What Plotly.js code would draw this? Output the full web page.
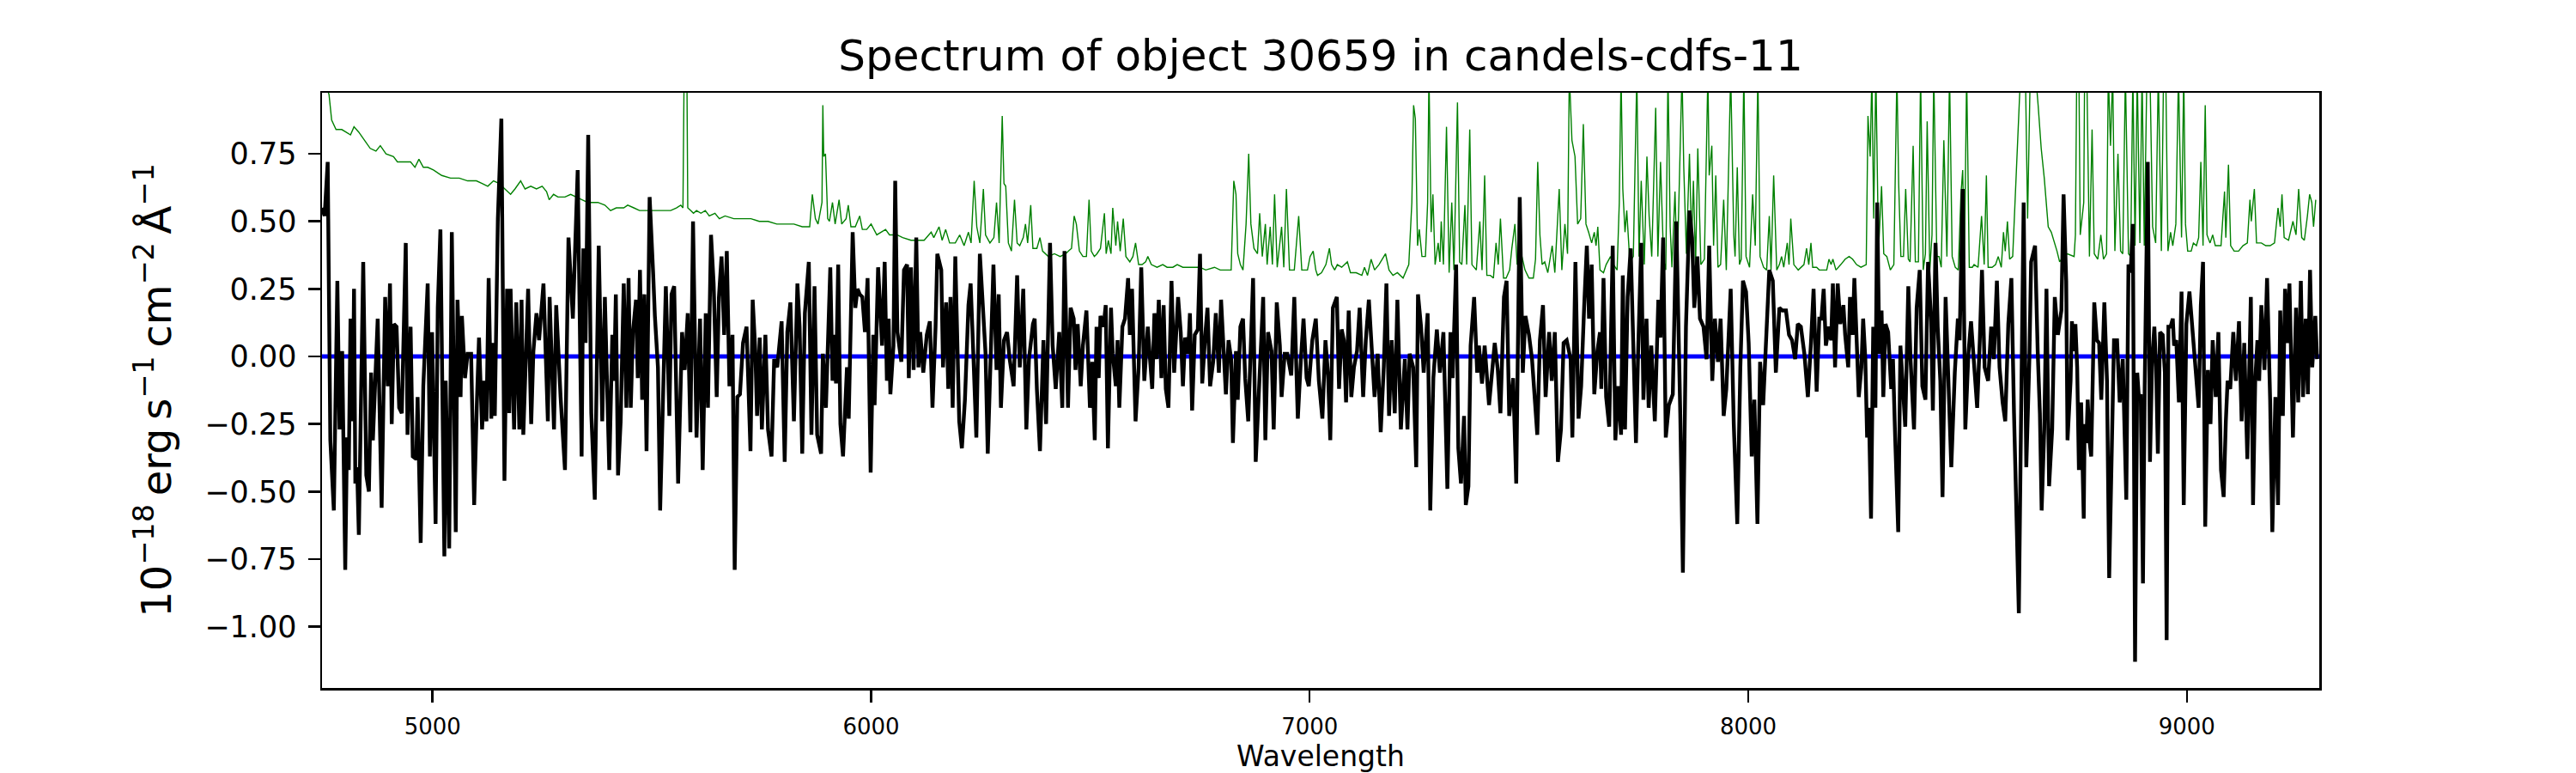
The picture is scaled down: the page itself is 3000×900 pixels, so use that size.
<!DOCTYPE html>
<html>
<head>
<meta charset="utf-8">
<script src="https://cdn.plot.ly/plotly-3.0.1.min.js"></script>
<style>html,body{margin:0;padding:0;background:#fff;}</style>
</head>
<body>
<div id="chart" style="width:3000px;height:900px;"></div>
<script>
// Observed spectrum (black): wavelength [Angstrom] and flux [1e-18 erg/s/cm2/A]
const wave = [
4748,4754,4761,4767,4775,4783,4788,4794,4801,4805,4809,4813,4818,4821,4824,4828,4832,4842,4849,4855,4860,4864,4875,4878,4884,4892,4898,4903,4907,4912,4918,4924,4930,4939,4943,4950,4955,4963,4966,4973,4979,4989,4994,4999,5007,5012,5018,5027,5030,5038,5044,5053,5057,5064,5067,5074,5080,5088,5095,5101,5106,5113,5118,5123,5128,5134,5138,5142,5149,5157,5164,5170,5175,5178,5186,5191,5198,5203,5207,5218,5225,5230,5237,5243,5253,5263,5267,5277,5282,5292,5302,5310,
5320,5331,5340,5344,5349,5355,5362,5370,5379,5387,5393,5403,5410,5414,5418,5423,5429,5436,5442,5447,5452,5457,5464,5468,5473,5478,5483,5488,5495,5503,5507,5514,5519,5525,5532,5540,5545,5551,5560,5569,5575,5582,5588,5594,5602,5610,5616,5623,5628,5635,5641,5648,5653,5659,5665,5671,5677,5684,5689,5695,5701,5708,5716,5725,5730,5736,5740,5746,5751,5759,5765,5773,5779,5786,5796,5803,5809,5816,5824,5832,5837,5843,5849,5858,5864,5871,5877,5886,
5890,5897,5907,5912,5917,5920,5925,5930,5936,5945,5949,5958,5964,5969,5974,5980,5986,5992,5999,6005,6008,6016,6025,6031,6036,6040,6044,6051,6055,6060,6069,6075,6082,6086,6091,6097,6103,6108,6112,6119,6127,6134,6140,6147,6151,6160,6164,6171,6176,6181,6186,6192,6201,6207,6214,6222,6227,6234,6240,6248,6256,6261,6266,6273,6279,6286,6291,6296,6303,6310,6316,6325,6333,6339,6347,6354,6360,6369,6373,6378,6385,6393,6399,6408,6414,6421,6429,6436,6441,6449,6455,
6462,6466,6471,6478,6483,6491,6499,6504,6510,6514,6519,6523,6530,6535,6540,6547,6551,6558,6562,6566,6573,6579,6586,6590,6595,6603,6610,6616,6623,6631,6636,6641,6646,6651,6656,6662,6667,6672,6678,6685,6691,6700,6706,6711,6716,6723,6727,6732,6738,6745,6750,6755,6762,6767,6773,6780,6786,6793,6798,6802,6809,6815,6821,6825,6832,6836,6842,6848,6853,6860,6871,6877,6886,6894,6899,6905,6913,6918,6925,6932,6936,6943,6949,6958,6965,6973,6980,6986,6993,6998,7006,7014,7021,
7029,7036,7042,7047,7053,7062,7067,7073,7078,7083,7089,7095,7101,7108,7114,7122,7128,7135,7142,7148,7155,7162,7169,7175,7181,7187,7194,7200,7208,7217,7223,7228,7236,7243,7247,7254,7260,7269,7275,7282,7290,7297,7305,7314,7321,7326,7334,7339,7345,7352,7356,7362,7367,7375,7382,7386,7393,7399,7409,7417,7422,7429,7435,7443,7449,7455,7464,7471,7479,7486,7492,7500,7507,7519,7525,7532,7538,7546,7552,7559,7566,7573,7579,7586,7595,
7599,7606,7613,7619,7626,7632,7637,7643,7649,7656,7662,7665,7670,7676,7683,7691,7697,7704,7710,7714,7719,7725,7732,7736,7744,7749,7756,7761,7768,7773,7779,7787,7795,7800,7806,7812,7819,7828,7836,7845,7851,7858,7866,7872,7877,7884,7890,7898,7905,7911,7918,7924,7931,7937,7944,7950,7960,7967,7975,7982,7988,7995,8001,8008,8014,8021,8027,8034,8040,8048,8056,8063,8071,8078,8086,8093,8100,8107,8113,8120,8128,8136,8143,8149,8156,8162,
8167,8172,8177,8184,8189,8193,8198,8204,8210,8217,8221,8228,8232,8238,8242,8247,8252,8258,8262,8267,8271,8275,8280,8285,8290,8294,8299,8304,8308,8313,8319,8326,8330,8335,8342,8347,8352,8358,8365,8370,8378,8384,8391,8397,8404,8410,8417,8421,8427,8432,8438,8443,8450,8456,8463,8471,8478,8482,8489,8495,8502,8508,8515,8522,8528,8533,8539,8547,8554,8560,8567,8573,8580,8586,8593,8600,8606,8617,8621,8628,8634,8641,8645,8654,8660,8665,8669,8675,8680,8686,8693,8699,8706,8714,8719,8725,8728,
8735,8738,8743,8746,8750,8754,8759,8765,8767,8771,8774,8778,8782,8789,8795,8800,8805,8812,8818,8823,8830,8834,8841,8847,8854,8857,8862,8867,8872,8877,8882,8887,8891,8895,8900,8904,8911,8916,8921,8926,8930,8934,8939,8945,8950,8954,8958,8963,8968,8971,8976,8982,8988,8993,8999,9006,9012,9019,9027,9032,9037,9042,9048,9054,9059,9066,9072,9078,9084,9089,9093,9099,9106,9112,9119,9125,9131,9138,9146,9151,9156,9161,9165,9170,9177,9183,9190,9195,9202,9208,9213,9219,9224,9229,9234,9242,9249,9254,9260,9265,9271,9276,9281,9286,9293,9297
];
const flux = [
0.55,0.52,0.72,-0.31,-0.57,0.28,-0.27,0.02,-0.79,-0.30,-0.42,0.14,-0.24,0.25,-0.47,-0.41,-0.66,0.35,-0.44,-0.50,-0.06,-0.31,0.14,-0.15,-0.56,0.22,-0.11,0.27,-0.25,0.12,0.11,-0.19,-0.21,0.42,-0.29,0.11,-0.37,-0.38,-0.15,-0.69,-0.11,0.27,-0.37,0.09,-0.62,0.18,0.47,-0.74,-0.09,-0.71,0.46,-0.65,0.21,-0.15,0.15,-0.08,0.01,0.01,-0.55,-0.18,0.07,-0.27,-0.09,-0.24,0.29,-0.23,0.05,-0.22,0.51,0.88,-0.46,0.25,-0.21,0.25,-0.27,0.20,-0.27,0.21,-0.29,0.25,-0.25,0.02,0.16,0.06,0.27,-0.24,0.22,-0.27,0.19,-0.15,-0.42,0.44,
0.14,0.69,-0.37,0.40,0.05,0.82,-0.21,-0.53,0.41,-0.24,0.22,-0.42,0.08,-0.09,0.23,-0.44,-0.24,0.27,-0.19,0.29,-0.19,0.09,0.21,-0.08,0.32,-0.16,0.23,-0.35,0.59,0.31,0.15,-0.04,-0.57,-0.19,0.26,-0.22,0.23,0.26,-0.47,0.09,-0.05,0.16,-0.28,0.50,-0.30,0.14,-0.42,0.16,-0.19,0.45,0.27,-0.15,0.22,0.37,0.08,0.39,-0.11,0.08,-0.79,-0.15,-0.14,0.05,0.11,-0.35,0.21,0.02,-0.22,0.07,-0.27,0.08,-0.27,-0.37,-0.01,-0.04,0.13,-0.39,0.09,0.20,-0.24,0.27,0.11,-0.36,0.16,0.35,-0.29,0.26,-0.29,-0.36,
0.01,-0.19,0.33,-0.09,0.08,-0.10,0.34,-0.25,-0.37,-0.04,-0.23,0.46,0.18,0.25,0.23,0.22,0.09,0.29,-0.43,0.08,-0.18,0.33,0.04,0.35,-0.09,0.14,-0.14,0.04,0.65,0.09,-0.02,0.32,0.34,-0.08,0.33,-0.05,0.44,-0.04,0.09,-0.06,0.08,0.13,-0.19,0.11,0.38,0.32,-0.04,0.20,-0.12,0.22,-0.19,0.37,-0.24,-0.34,-0.16,0.19,0.27,-0.03,-0.30,0.38,0.11,0.01,-0.36,0.08,0.34,-0.05,0.23,-0.19,0.06,0.09,-0.01,-0.11,0.30,-0.04,0.25,-0.27,-0.01,0.12,0.14,-0.12,-0.35,0.06,-0.25,0.42,0.04,-0.12,0.09,-0.19,0.39,-0.19,0.18,
0.14,-0.05,0.12,-0.11,0.04,0.17,-0.19,-0.02,-0.31,0.11,-0.08,0.15,0.11,0.19,-0.34,0.18,0.01,-0.11,0.06,-0.19,0.11,0.14,0.29,0.08,0.25,-0.24,-0.04,0.33,-0.09,0.11,-0.01,-0.12,0.16,-0.01,0.21,-0.08,0.19,-0.12,-0.19,0.28,-0.06,0.22,0.09,-0.11,0.07,0.01,0.16,-0.20,0.08,0.10,0.38,-0.10,0.08,0.18,-0.11,-0.02,0.16,-0.06,0.21,0.08,-0.14,0.06,-0.01,-0.32,0.02,-0.16,0.11,0.14,-0.08,-0.24,0.29,-0.39,-0.06,0.22,-0.31,0.09,0.02,-0.27,0.20,0.04,-0.15,0.01,0.01,-0.07,0.22,-0.23,-0.01,0.14,-0.08,-0.11,0.06,0.14,-0.09,
-0.23,0.06,-0.07,-0.31,0.18,0.22,-0.12,0.10,0.06,-0.17,0.17,-0.15,-0.04,0.02,0.18,-0.15,0.06,0.21,-0.02,-0.15,0.01,-0.28,-0.04,0.27,-0.22,0.06,-0.21,0.21,-0.27,-0.01,-0.27,0.01,-0.04,-0.41,0.23,0.11,-0.06,0.16,-0.57,-0.08,0.10,-0.06,0.09,-0.49,0.09,-0.08,0.34,-0.34,-0.47,-0.22,-0.55,-0.48,0.04,0.22,-0.06,0.04,-0.10,0.04,-0.18,-0.04,0.05,-0.05,-0.21,0.22,0.28,-0.22,-0.08,-0.47,0.59,-0.06,0.15,0.08,-0.01,-0.29,0.06,0.19,-0.15,0.09,-0.09,0.09,-0.39,-0.27,0.05,0.06,-0.01,
-0.30,0.35,-0.23,-0.11,0.19,0.41,0.14,0.34,-0.14,0.02,0.09,-0.12,0.29,-0.15,-0.26,0.41,-0.31,-0.11,-0.29,0.30,-0.27,0.22,0.40,0.12,-0.32,0.02,0.42,-0.16,0.14,-0.19,0.04,-0.24,0.21,0.07,0.44,-0.30,-0.18,-0.14,0.50,-0.21,-0.80,0.11,0.54,0.44,0.18,0.37,0.14,0.11,-0.01,0.41,-0.09,0.14,-0.02,0.14,-0.22,-0.12,0.25,-0.25,-0.62,-0.04,0.28,0.24,0.05,-0.37,-0.16,-0.62,-0.02,-0.18,0.01,0.32,0.28,-0.06,0.18,0.17,0.17,0.08,0.06,-0.01,0.12,0.11,0.01,-0.15,0.05,0.25,-0.13,0.14,
0.14,0.25,0.04,0.11,0.06,0.27,-0.04,0.27,0.12,0.19,0.08,-0.04,0.22,0.08,0.29,0.08,-0.15,-0.04,0.14,-0.01,-0.30,-0.19,-0.60,0.11,-0.19,0.57,0.01,0.17,-0.15,0.12,0.09,-0.12,-0.01,-0.30,-0.65,0.04,-0.09,-0.26,0.26,-0.01,-0.27,0.18,0.32,-0.11,-0.16,0.35,0.13,-0.20,0.42,0.11,-0.09,-0.52,0.22,-0.04,-0.41,-0.06,0.14,0.06,0.62,-0.27,0.01,0.13,-0.01,-0.19,0.06,0.32,-0.04,-0.09,0.11,-0.01,0.28,-0.04,-0.17,-0.24,0.12,0.29,-0.21,-0.95,-0.38,0.57,-0.41,-0.01,0.35,0.41,0.02,-0.21,-0.57,-0.27,0.25,-0.48,-0.27,0.22,0.08,0.17,0.60,0.28,-0.31,
-0.09,0.13,0.02,0.12,-0.04,-0.42,-0.17,-0.60,-0.25,-0.32,-0.16,-0.31,-0.37,0.20,0.06,0.05,-0.16,0.20,-0.09,-0.82,-0.31,0.06,0.06,-0.17,-0.01,-0.27,-0.53,0.34,0.31,0.49,-1.13,-0.06,-0.16,-0.14,-0.84,-0.11,0.72,-0.39,-0.01,0.11,-0.04,-0.36,0.09,0.08,-0.06,-1.05,0.11,0.11,0.14,0.04,0.06,-0.17,0.24,-0.55,0.12,0.24,0.11,-0.04,-0.19,0.19,0.35,-0.63,-0.05,-0.25,0.06,-0.15,0.09,-0.42,-0.52,-0.24,-0.09,-0.12,0.09,-0.09,0.13,-0.24,0.05,-0.38,0.22,-0.55,-0.09,0.06,-0.09,0.19,-0.05,0.29,-0.16,-0.65,-0.15,-0.55,0.17,-0.22,0.25,0.05,0.27,-0.30,0.18,-0.17,0.28,-0.15,0.14,-0.14,0.32,-0.04,0.15,-0.01
];

// Model continuum (blue), flat at zero over the range
const modelWave = [4748, 9302];
const modelFlux = [0, 0];

// Noise / sky spectrum (green). Values above the axis top are sky-line peaks.
const errWave = [
4748,4757,4764,4770,4780,4793,4803,4813,4821,4832,4845,4858,4871,4881,4894,4911,4920,4937,4950,4960,4969,4979,4989,5002,5021,5041,5061,5080,5100,5113,5126,5139,5152,5165,5178,5188,5201,5211,5224,5237,5250,5260,5266,5276,5286,5302,
5315,5341,5354,5377,5393,5406,5419,5436,5445,5459,5472,5491,5504,5517,5530,5543,5556,5566,5571,5575,5579,5582,5589,5595,5602,5612,5622,5631,5644,5654,5667,5687,5706,5726,5745,5765,5785,5804,5824,5843,5860,5866,5873,5879,5888,5890,
5892,5896,5901,5905,5912,5918,5927,5933,5943,5948,5954,5964,5974,5980,5990,6000,6013,6033,6042,6059,6072,6091,6104,6121,6137,6143,6155,6162,6170,6179,6192,6202,6212,6222,6228,6235,6241,6248,6256,6261,6271,6280,6286,6292,6299,6303,6307,6313,6320,6327,6333,6339,6347,6352,6357,6364,6369,6378,6385,6391,6404,6418,6431,6444,
6450,6457,6463,6468,6475,6483,6491,6497,6502,6509,6515,6523,6532,6536,6541,6547,6551,6558,6562,6568,6575,6581,6590,6597,6603,6610,6618,6626,6631,6639,6652,6665,6675,6688,6698,6711,6724,6737,6750,6763,6783,6796,6809,6821,6827,6832,6836,6842,6848,6855,6861,6866,6873,6881,6886,6892,6899,6903,6910,6915,6920,6926,6936,6941,6947,6954,6965,6969,6975,6982,6995,7001,7008,7014,
7018,7027,7037,7045,7050,7057,7063,7073,7080,7086,7093,7106,7119,7125,7132,7140,7148,7158,7173,7181,7190,7200,7213,7220,7226,7233,7237,7241,7246,7250,7256,7264,7269,7272,7277,7281,7286,7293,7297,7300,7305,7312,7318,7324,7329,7337,7342,7347,7354,7358,7365,7370,7380,7388,7393,7399,7404,7412,7419,7425,7430,7435,7442,7448,7456,7461,7468,7473,7484,7491,7500,7510,7515,7520,7525,7530,7536,7543,7553,7559,7569,7575,7582,7588,
7592,7598,7605,7611,7618,7624,7630,7636,7643,7649,7653,7657,7662,7670,7676,7686,7693,7701,7706,7710,7714,7719,7723,7730,7738,7746,7751,7756,7763,7769,7774,7780,7789,7794,7800,7807,7812,7817,7822,7826,7833,7838,7843,7849,7853,7859,7866,7871,7875,7880,7885,7892,7900,7908,7911,7917,7921,7926,7931,7937,7944,7950,7960,7967,7970,7975,7980,7984,7990,7995,8003,8010,8016,8022,8027,8035,8042,8048,8052,8058,8065,8071,8076,8081,8089,8093,8097,8104,8114,8127,8133,8138,8143,8147,8156,8162,
8166,8179,8184,8189,8193,8200,8211,8221,8230,8238,8247,8257,8269,8273,8278,8282,8286,8291,8297,8304,8309,8316,8324,8332,8339,8343,8348,8354,8359,8365,8369,8376,8381,8388,8393,8399,8404,8408,8414,8419,8423,8430,8435,8440,8446,8453,8459,8465,8472,8479,8485,8489,8493,8498,8504,8511,8515,8524,8532,8538,8543,8547,8556,8564,8570,8577,8582,8586,8591,8596,8603,8609,8616,8621,8626,8632,8637,8643,8648,8655,8661,8668,8675,8680,8684,8691,8697,8704,8710,8719,
8728,8743,8746,8749,8754,8757,8765,8767,8772,8778,8784,8789,8797,8804,8810,8817,8821,8826,8831,8836,8843,8849,8854,8860,8867,8872,8877,8882,8887,8893,8898,8903,8909,8916,8922,8929,8935,8942,8947,8952,8957,8963,8968,8975,8981,8988,8993,8997,9002,9010,9015,9022,9027,9032,9037,9042,9046,9053,9059,9065,9072,9078,9086,9089,9095,9100,9108,9118,9128,9138,9144,9147,9154,9159,9170,9180,9190,9200,9208,9213,9217,9222,9232,9242,9249,9255,9262,9268,9275,9280,9285,9289,9294
];
const errFlux = [
1.10,1.00,0.97,0.875,0.84,0.84,0.83,0.82,0.85,0.83,0.80,0.77,0.76,0.78,0.75,0.74,0.72,0.72,0.72,0.70,0.73,0.70,0.70,0.69,0.67,0.66,0.66,0.65,0.65,0.64,0.63,0.65,0.64,0.62,0.60,0.62,0.65,0.62,0.63,0.62,0.63,0.61,0.58,0.60,0.59,0.59,
0.60,0.58,0.57,0.57,0.56,0.54,0.55,0.55,0.56,0.55,0.54,0.54,0.54,0.54,0.54,0.54,0.55,0.56,0.55,1.30,1.30,0.55,0.54,0.53,0.54,0.53,0.54,0.52,0.53,0.51,0.52,0.51,0.51,0.51,0.50,0.50,0.49,0.49,0.49,0.48,0.48,0.60,0.51,0.49,0.57,0.93,
0.74,0.75,0.51,0.50,0.57,0.49,0.58,0.49,0.51,0.56,0.48,0.48,0.52,0.47,0.47,0.49,0.45,0.47,0.45,0.45,0.44,0.43,0.43,0.43,0.46,0.44,0.48,0.43,0.47,0.42,0.42,0.45,0.41,0.46,0.42,0.65,0.48,0.42,0.62,0.45,0.42,0.44,0.57,0.42,0.89,0.64,0.63,0.42,0.39,0.58,0.42,0.41,0.44,0.49,0.42,0.56,0.40,0.40,0.44,0.39,0.37,0.38,0.37,0.38,
0.39,0.40,0.52,0.49,0.39,0.37,0.37,0.58,0.39,0.37,0.38,0.40,0.53,0.38,0.43,0.38,0.55,0.41,0.50,0.39,0.51,0.37,0.35,0.37,0.42,0.34,0.34,0.35,0.37,0.34,0.33,0.34,0.33,0.33,0.34,0.33,0.33,0.33,0.33,0.32,0.33,0.32,0.32,0.32,0.65,0.60,0.38,0.34,0.32,0.49,0.75,0.49,0.40,0.38,0.53,0.37,0.49,0.34,0.48,0.34,0.60,0.33,0.48,0.33,0.62,0.32,0.32,0.40,0.52,0.32,0.32,0.37,0.39,0.32,
0.30,0.31,0.34,0.40,0.34,0.32,0.34,0.33,0.34,0.35,0.31,0.31,0.30,0.33,0.30,0.36,0.32,0.34,0.38,0.32,0.30,0.31,0.29,0.32,0.34,0.57,0.93,0.88,0.41,0.47,0.37,0.37,0.57,1.05,0.46,0.60,0.34,0.42,0.35,0.50,0.34,0.85,0.31,0.57,0.32,0.94,0.35,0.34,0.56,0.34,0.84,0.34,0.32,0.50,0.32,0.67,0.30,0.30,0.29,0.42,0.34,0.51,0.29,0.29,0.32,0.40,0.49,0.34,0.37,0.32,0.29,0.29,0.36,0.72,0.45,0.34,0.35,0.31,0.41,0.31,0.62,0.32,0.49,0.38,
1.05,0.80,0.74,0.49,0.51,0.86,0.49,0.46,0.42,0.46,0.41,0.48,0.32,0.31,0.34,0.37,0.34,0.32,0.57,1.05,0.62,0.46,0.54,0.35,0.37,1.05,0.37,0.65,0.34,0.74,0.52,0.37,0.92,0.37,0.72,0.36,0.32,1.05,0.48,0.33,0.61,0.32,0.67,1.05,0.70,0.38,0.75,0.42,0.65,0.34,0.77,0.34,0.36,1.05,0.67,0.78,0.41,0.67,0.33,0.34,0.58,0.32,1.05,0.45,0.37,0.70,0.34,0.36,1.05,0.37,0.33,0.60,0.41,1.05,0.37,0.33,0.32,0.52,0.32,0.67,0.32,0.34,0.37,0.33,0.42,0.34,0.51,0.34,0.32,0.34,0.40,0.34,0.42,0.33,0.33,0.32,
0.32,0.32,0.36,0.34,0.36,0.32,0.34,0.36,0.37,0.36,0.34,0.33,0.34,0.89,0.74,1.05,0.51,1.05,0.39,0.63,0.38,0.37,0.32,0.34,1.05,0.64,0.37,0.37,0.62,0.36,0.35,0.78,0.35,0.35,1.05,0.32,0.38,0.87,0.32,0.45,1.05,0.37,0.37,0.33,0.80,0.37,1.05,0.37,0.33,0.32,0.60,0.69,0.36,1.05,0.33,0.33,0.34,0.33,0.52,0.34,0.67,0.33,0.33,0.34,0.37,0.33,0.46,0.39,0.50,0.36,0.37,0.61,0.88,1.05,1.05,1.05,0.51,1.05,1.05,1.05,0.93,0.77,0.66,0.55,0.48,0.46,0.43,0.39,0.35,0.37,
0.38,0.37,0.45,1.05,1.05,0.45,0.57,1.05,1.05,0.37,0.84,0.38,0.36,0.45,0.36,0.38,1.05,0.78,1.05,0.39,0.75,0.39,0.38,1.05,0.38,0.37,1.05,0.41,1.05,0.42,1.05,0.41,1.05,1.05,0.48,0.42,1.05,0.39,1.05,1.05,0.39,0.46,0.41,0.49,1.05,0.44,1.05,0.49,0.39,0.39,0.42,0.41,0.44,0.72,0.41,0.93,0.45,0.42,0.45,0.41,0.41,0.41,0.61,0.44,0.71,0.41,0.39,0.39,0.41,0.42,0.58,0.50,0.62,0.42,0.42,0.41,0.41,0.42,0.55,0.48,0.60,0.44,0.43,0.50,0.45,0.62,0.44,0.43,0.52,0.60,0.57,0.48,0.58
];

// Axis ticks
const xTickVals = [5000, 6000, 7000, 8000, 9000];
const xTickText = ['5000', '6000', '7000', '8000', '9000'];
const yTickVals = [-1.00, -0.75, -0.50, -0.25, 0.00, 0.25, 0.50, 0.75];
const yTickText = ['\u22121.00', '\u22120.75', '\u22120.50', '\u22120.25', '0.00', '0.25', '0.50', '0.75'];

const FONT = 'DejaVu Sans, Verdana, sans-serif';

const traces = [
  {x: errWave, y: errFlux, type: 'scatter', mode: 'lines',
   line: {color: '#008000', width: 1.4}, hoverinfo: 'skip'},
  {x: modelWave, y: modelFlux, type: 'scatter', mode: 'lines',
   line: {color: '#0000ff', width: 5}, hoverinfo: 'skip'},
  {x: wave, y: flux, type: 'scatter', mode: 'lines',
   line: {color: '#000000', width: 4.4}, hoverinfo: 'skip'}
];

const axisCommon = {
  showline: true, linecolor: '#000', linewidth: 2.5, mirror: true,
  ticks: 'outside', ticklen: 14, tickwidth: 2.5, tickcolor: '#000',
  showgrid: false, zeroline: false
};

const layout = {
  width: 3000, height: 900,
  margin: {l: 375, r: 299, t: 108, b: 99, pad: 0},
  paper_bgcolor: '#fff', plot_bgcolor: '#fff',
  showlegend: false,
  font: {family: FONT, color: '#000'},
  title: {
    text: 'Spectrum of object 30659 in candels-cdfs-11',
    font: {family: FONT, size: 50, color: '#000'},
    xref: 'paper', x: 0.5, xanchor: 'center',
    yref: 'container', y: 0.928, yanchor: 'middle'
  },
  xaxis: Object.assign({}, axisCommon, {
    range: [4748, 9302],
    tickmode: 'array', tickvals: xTickVals, ticktext: xTickText,
    tickfont: {family: FONT, size: 26, color: '#000'},
    ticklabelstandoff: 6,
    title: {text: 'Wavelength', font: {family: FONT, size: 33, color: '#000'}, standoff: 4}
  }),
  yaxis: Object.assign({}, axisCommon, {
    range: [-1.227, 0.976],
    tickmode: 'array', tickvals: yTickVals, ticktext: yTickText,
    tickfont: {family: FONT, size: 35, color: '#000'},
    ticklabelstandoff: 6,
    title: {text: '10<sup>\u221218</sup>\u2009erg\u2009s<sup>\u22121</sup>\u2009cm<sup>\u22122</sup>\u2009\u00c5<sup>\u22121</sup>',
            font: {family: FONT, size: 48, color: '#000'}, standoff: 24}
  })
};

Plotly.newPlot('chart', traces, layout, {staticPlot: true, displayModeBar: false});
</script>
</body>
</html>
